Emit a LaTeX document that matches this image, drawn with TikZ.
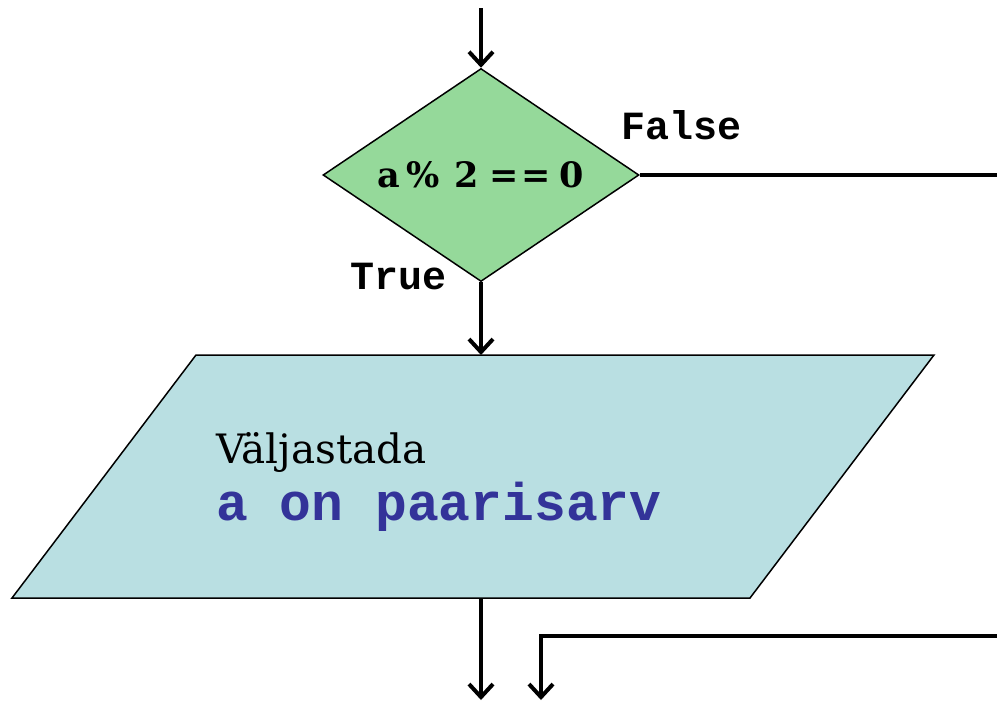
\documentclass[tikz,border=0pt]{standalone}
\usepackage{fontspec}
\setmainfont{DejaVu Serif}
\setmonofont{Liberation Mono}
\usetikzlibrary{shapes.geometric,arrows.meta}
\definecolor{decfill}{HTML}{95D99A}
\definecolor{iofill}{HTML}{B9DFE2}
\definecolor{codeblue}{HTML}{333399}
\tikzset{
  flow/.style={line width=4pt, -{Straight Barb[length=13pt,width=24pt]}},
  wire/.style={line width=4pt, line join=miter},
  decision/.style={diamond, draw, line width=1.5pt, fill=decfill,
    minimum width=316pt, minimum height=213pt, inner sep=0pt, aspect=1.48},
  iobox/.style={draw, line width=1.5pt, fill=iofill, line join=miter},
  lbl/.style={font=\fontsize{40}{40}\selectfont\ttfamily\bfseries, inner sep=0pt},
  iotext/.style={anchor=base west, inner sep=0pt}
}
\begin{document}
\begin{tikzpicture}[x=1pt,y=-1pt]
\useasboundingbox (0,0) rectangle (997,702);

% decision
\coordinate (in) at (481,8);
\node[decision] (dec) at (481,175)
  {\fontsize{35}{35}\selectfont\bfseries
   a\hspace{6pt}\%\hspace{15pt}2\hspace{10pt}=\hspace{3pt}=\hspace{9pt}0};
\coordinate (falseout) at (997,175);
\node[lbl] (lfalse) at (682,125) {False};
\node[lbl] (ltrue) at (399,277) {True};

% output block (parallelogram)
\coordinate (ptl) at (196,355);
\coordinate (ptr) at (934,355);
\coordinate (pbr) at (750,598);
\coordinate (pbl) at (12,598);
\coordinate (ptop) at (481,355);
\coordinate (pbot) at (481,598);
\path[iobox] (pbl) -- (ptl) -- (ptr) -- (pbr) -- cycle;
\node[iotext] (io1) at (216,463) {\fontsize{40.5}{40.5}\selectfont Väljastada};
\node[iotext, text=codeblue] (io2) at (216,520)
  {\fontsize{53}{53}\selectfont\ttfamily\bfseries a on paarisarv};

% exits
\coordinate (out1) at (481,700);
\coordinate (join) at (997,636);
\coordinate (out2) at (541,700);

% connectors
\draw[flow] (in) -- (dec.north);
\draw[wire] (dec.east) -- (falseout);
\draw[flow] (dec.south) -- (ptop);
\draw[flow] (pbot) -- (out1);
\draw[flow, line join=miter] (join) -| (out2);
\end{tikzpicture}
\end{document}
